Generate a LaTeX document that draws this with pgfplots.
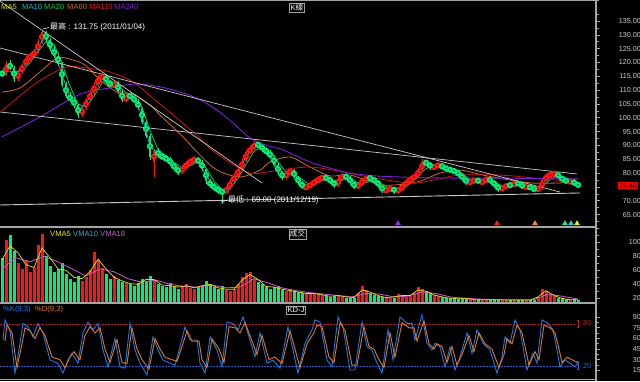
\documentclass[border=0pt]{standalone}
\usepackage{fontspec}
\setmainfont{Liberation Sans}
\newfontfamily\cjk{Noto Sans CJK TC}
\usepackage{pgfplots}
\usepackage{pgfplotstable}
\pgfplotsset{compat=1.18}

\definecolor{cup}{RGB}{255,20,20}
\definecolor{cdn}{RGB}{0,235,120}
\definecolor{tickc}{RGB}{205,205,205}
\definecolor{sepc}{RGB}{165,165,165}
\definecolor{trend}{RGB}{200,200,200}
\definecolor{maA}{RGB}{220,220,0}
\definecolor{maB}{RGB}{0,190,200}
\definecolor{maC}{RGB}{0,200,80}
\definecolor{maD}{RGB}{205,105,40}
\definecolor{maE}{RGB}{200,20,20}
\definecolor{maEt}{RGB}{230,30,30}
\definecolor{maF}{RGB}{125,30,210}
\definecolor{vmaA}{RGB}{230,230,0}
\definecolor{vmaB}{RGB}{40,170,210}
\definecolor{vmaC}{RGB}{200,90,210}
\definecolor{kcol}{RGB}{30,120,225}
\definecolor{dcol}{RGB}{225,120,30}
\definecolor{lred}{RGB}{200,30,30}
\definecolor{lblue}{RGB}{30,110,220}
\definecolor{dred}{RGB}{170,25,25}
\definecolor{dblue}{RGB}{30,90,190}
\definecolor{boxred}{RGB}{255,0,0}
\definecolor{mkA}{RGB}{150,50,230}
\definecolor{mkB}{RGB}{255,30,30}
\definecolor{mkC}{RGB}{255,130,80}
\definecolor{mkD}{RGB}{40,230,140}
\definecolor{mkE}{RGB}{40,200,230}
\definecolor{mkF}{RGB}{240,240,30}

\newcommand\tkf{\fontsize{7.2}{8}\selectfont}
\newcommand\lgf{\fontsize{7.6}{8}\selectfont}

\pgfplotstableread{
x o c h l v
2 116.5 115.5 117.3 114.6 78
6 115.5 119.5 120.4 115.0 104
10 119.5 118.0 120.8 117.2 110
14 118.0 114.0 118.6 112.8 88
18 114.0 116.5 117.2 113.4 70
22 116.5 119.0 119.8 116.0 62
26 119.0 121.5 122.3 118.4 75
30 121.5 122.5 123.5 120.6 58
34 122.5 124.0 125.0 121.7 64
38 124.0 127.5 128.4 123.3 96
42 127.5 131.0 131.75 126.8 112
46 131.0 128.0 131.4 127.2 80
50 128.0 125.0 128.8 124.2 66
54 125.0 122.5 125.8 121.6 58
58 122.5 119.5 123.4 118.6 62
62 119.5 112.0 120.0 111.0 70
66 112.0 108.0 112.8 107.0 55
70 108.0 106.5 109.2 105.6 48
74 106.5 104.5 107.4 103.6 44
78 104.5 101.0 105.0 99.8 52
82 101.0 103.5 104.3 100.4 45
86 103.5 106.5 107.3 102.8 50
90 106.5 109.0 109.9 105.8 60
94 109.0 112.0 112.8 108.3 86
98 112.0 114.5 115.4 111.3 75
102 114.5 115.0 116.2 113.7 64
106 115.0 113.0 115.8 112.2 55
110 113.0 111.5 113.8 110.6 48
114 111.5 112.5 113.4 110.8 52
118 112.5 109.5 113.2 108.7 46
122 109.5 106.5 110.1 105.6 44
126 106.5 107.5 108.5 105.8 42
130 108.3 107.5 109.0 106.7 40
134 107.5 106.0 108.2 105.2 38
138 106.0 103.5 106.8 102.7 42
142 103.5 98.5 104.0 97.6 48
146 98.5 93.5 99.2 92.6 45
150 93.5 86.0 94.2 84.8 52
154 84.0 88.0 88.8 78.6 46
158 88.0 86.5 89.0 85.6 40
162 86.5 85.5 87.3 84.6 38
166 85.5 85.0 86.5 84.0 36
170 85.0 83.5 85.8 82.6 42
174 83.5 81.5 84.2 80.6 36
178 81.5 80.5 82.3 79.4 34
182 80.5 82.0 82.9 79.8 38
186 82.0 83.5 84.4 81.3 40
190 83.5 84.5 85.5 82.7 35
194 84.5 85.0 86.3 83.8 33
198 85.0 84.0 85.9 83.2 36
202 84.0 81.5 84.6 80.7 38
206 81.5 77.0 82.0 76.1 45
210 77.0 75.5 77.9 74.6 40
214 75.5 74.5 76.4 73.6 36
218 74.5 73.5 75.4 72.6 34
222 73.5 73.0 74.4 69.0 38
226 73.0 74.5 75.3 72.4 32
230 74.5 77.0 77.8 73.9 30
234 77.0 79.0 79.9 76.3 33
238 79.0 81.5 82.3 78.4 40
242 81.5 84.5 85.3 80.8 50
246 84.5 87.5 88.4 83.9 56
250 87.5 89.0 90.0 86.8 58
254 89.0 90.5 92.0 88.3 48
258 90.5 90.0 91.4 89.2 44
262 90.0 88.5 90.7 87.6 40
266 88.5 87.5 89.6 86.7 36
270 87.5 86.0 88.3 85.2 34
274 86.0 83.0 86.6 82.2 36
278 83.0 80.0 83.6 79.2 38
282 80.0 78.5 80.8 77.6 32
286 78.5 80.0 80.8 77.9 30
290 80.0 81.0 82.0 79.3 34
294 81.0 78.5 81.6 77.7 30
298 78.5 76.5 79.1 75.6 29
302 76.5 75.0 77.2 74.2 28
306 74.6 75.2 76.0 73.8 26
310 75.2 76.0 76.8 74.6 27
314 76.0 77.0 77.8 75.4 28
318 77.0 78.0 78.8 76.3 26
322 78.0 78.5 79.4 77.4 25
326 78.5 78.0 79.2 77.2 23
330 78.0 77.0 78.7 76.2 22
334 77.0 75.5 77.6 74.7 24
338 75.5 78.0 78.8 75.0 25
342 78.0 79.0 79.9 77.4 22
346 79.0 78.5 79.7 77.7 21
350 78.5 76.5 79.0 75.7 20
354 76.5 75.0 77.0 74.2 21
358 75.0 76.0 76.8 74.4 27
362 76.0 77.5 78.3 75.4 38
366 77.5 78.0 79.0 76.9 32
370 78.4 78.0 79.1 77.2 28
374 78.0 77.0 78.6 76.2 25
378 77.0 75.5 77.6 74.7 23
382 75.5 73.5 76.0 72.7 22
386 73.5 74.0 74.9 72.9 21
390 74.0 74.5 75.4 73.4 20
394 74.5 73.5 75.1 72.6 21
398 73.5 74.0 74.8 72.8 26
402 74.0 75.5 76.3 73.4 24
406 75.5 77.0 77.8 74.9 22
410 77.0 78.0 78.9 76.4 24
414 78.0 79.0 79.8 77.4 28
418 79.0 81.0 81.9 78.4 36
422 81.0 84.0 85.0 80.4 33
426 84.0 83.5 84.9 82.7 30
430 83.5 82.0 84.2 81.2 27
434 82.0 82.5 83.4 81.3 25
438 82.5 83.0 83.9 81.9 23
442 83.0 82.0 83.6 81.2 22
446 82.0 81.5 82.7 80.7 21
450 81.5 81.0 82.3 80.2 20
454 81.0 80.5 81.8 79.7 20
458 80.5 79.5 81.1 78.7 19
462 79.5 78.0 80.1 77.2 21
466 78.0 76.5 78.6 75.7 20
470 76.5 77.0 77.8 75.9 19
474 77.0 77.5 78.3 76.4 18
478 77.5 77.0 78.2 76.2 19
482 76.6 77.0 77.8 75.9 18
486 77.0 78.0 78.8 76.4 17
490 78.0 77.0 78.6 76.2 18
494 77.0 75.5 77.6 74.7 19
498 75.5 74.0 76.0 73.2 17
502 74.0 75.0 75.8 73.4 18
506 75.0 75.5 76.3 74.4 17
510 75.9 75.4 76.6 74.7 18
514 75.4 76.5 77.3 74.9 17
518 76.5 76.0 77.2 75.3 18
522 76.0 75.0 76.6 74.3 17
526 74.7 75.2 75.9 74.0 18
530 75.2 74.5 75.8 73.8 17
534 74.5 74.0 75.2 73.0 18
538 74.0 74.5 75.3 73.4 22
542 74.5 77.5 78.3 74.0 34
546 77.5 79.0 79.9 76.9 30
550 79.0 79.5 80.4 78.4 26
554 79.5 80.0 80.9 78.9 23
558 80.0 78.5 80.5 77.7 21
562 78.5 77.5 79.1 76.7 20
566 77.5 77.0 78.2 76.2 19
570 76.7 77.2 77.9 76.0 18
574 77.2 76.0 77.7 75.3 19
578 76.0 75.46 76.6 74.9 17
}\candles

\pgfplotsset{
  panel/.style={
    scale only axis, width=596pt, xmin=0, xmax=596,
    anchor=south west,
    axis x line=none, axis y line*=right, xtick=\empty,
    axis line style={draw=sepc, line width=1.2pt, -},
    tick align=outside, major tick length=4pt, minor tick length=2.5pt,
    tick style={draw=sepc, line width=0.6pt},
    yticklabel style={font=\tkf, text=tickc, anchor=east, inner sep=0pt, xshift=41pt},
    scaled y ticks=false,
    /pgf/number format/assume math mode=true,
  },
  upc/.style={restrict expr to domain={\thisrow{c}-\thisrow{o}}{0:1000}},
  dnc/.style={restrict expr to domain={\thisrow{c}-\thisrow{o}}{-1000:-0.0001}},
}

\begin{document}
\begin{tikzpicture}
\fill[black] (0,0) rectangle (640pt,381pt);

% ---------------- price panel ----------------
\begin{axis}[panel, at={(0pt,154pt)}, height=227pt,
  ymin=60.52, ymax=142.59,
  ytick={65,70,80,85,...,135}, minor ytick={62.5,67.5,...,142.5},
  extra y ticks={75}, extra y tick labels={},
  yticklabel style={/pgf/number format/fixed, /pgf/number format/fixed zerofill, /pgf/number format/precision=2}]
% candles: wicks
\addplot[only marks, mark=none, draw=cup, line width=0.8pt, upc, error bars/.cd, y dir=both, y explicit, error mark=none,
  error bar style={draw=cup, line width=0.8pt}]
  table[x=x, y expr={0.5*(\thisrow{o}+\thisrow{c})},
        y error plus expr={\thisrow{h}-0.5*(\thisrow{o}+\thisrow{c})},
        y error minus expr={0.5*(\thisrow{o}+\thisrow{c})-\thisrow{l}}]{\candles};
\addplot[only marks, mark=none, draw=cdn, line width=0.8pt, dnc, error bars/.cd, y dir=both, y explicit, error mark=none,
  error bar style={draw=cdn, line width=0.8pt}]
  table[x=x, y expr={0.5*(\thisrow{o}+\thisrow{c})},
        y error plus expr={\thisrow{h}-0.5*(\thisrow{o}+\thisrow{c})},
        y error minus expr={0.5*(\thisrow{o}+\thisrow{c})-\thisrow{l}}]{\candles};
% candles: bodies
\addplot[only marks, mark=none, draw=cup, line width=2.2pt, upc, error bars/.cd, y dir=both, y explicit, error mark=none,
  error bar style={draw=cup, line width=2.2pt}]
  table[x=x, y expr={0.5*(\thisrow{o}+\thisrow{c})},
        y error expr={0.5*abs(\thisrow{c}-\thisrow{o})}]{\candles};
\addplot[only marks, mark=none, draw=cdn, line width=2.2pt, dnc, error bars/.cd, y dir=both, y explicit, error mark=none,
  error bar style={draw=cdn, line width=2.2pt}]
  table[x=x, y expr={0.5*(\thisrow{o}+\thisrow{c})},
        y error expr={0.5*abs(\thisrow{c}-\thisrow{o})}]{\candles};
% MA20
\addplot[draw=maC, line width=0.8pt, mark=none] coordinates {
(14,116.75)(22,116.9)(30,119.9)(38,123.9)(46,127.6)(54,126.6)(62,119.75)(70,111.5)(78,105)(86,103.9)
(94,107.75)(102,112.6)(110,113.5)(118,111.6)(126,109)(134,106.9)(142,103.9)(150,95.4)(158,88.5)(166,86.25)
(174,83.9)(182,81.9)(190,82.6)(198,84.25)(206,81.9)(214,77.1)(222,74.1)(230,74.5)(238,78)(246,83.1)
(254,87.9)(262,89.5)(270,88)(278,84.1)(286,80.4)(294,79.5)(302,77.75)(310,75.7)(318,76.55)(326,77.9)
(334,77.25)(342,77.4)(350,78)(358,76.5)(366,76.6)(374,77.6)(382,76)(390,74.4)(398,74)(406,75)
(414,77.4)(422,80.5)(430,82.6)(438,82.75)(446,82.25)(454,81.25)(462,79.75)(470,77.75)(478,77)(486,77.4)
(494,76.9)(502,75.4)(510,75)(518,75.85)(526,75.7)(534,74.7)(542,75.1)(550,77.6)(558,79.25)(566,78.25)
(574,76.9)(578,76.4)};
% MA10
\addplot[draw=maB, line width=0.7pt, mark=none] coordinates {
(6,117.5)(14,116)(22,117.75)(30,122)(38,125.75)(46,129.5)(54,123.75)(62,115.75)(70,107.25)(78,102.75)
(86,105)(94,110.5)(102,114.75)(110,112.25)(118,111)(126,107)(134,106.75)(142,101)(150,89.75)(158,87.25)
(166,85.25)(174,82.5)(182,81.25)(190,84)(198,84.5)(206,79.25)(214,75)(222,73.25)(230,75.75)(238,80.25)
(246,86)(254,89.75)(262,89.25)(270,86.75)(278,81.5)(286,79.25)(294,79.75)(302,75.75)(310,75.6)(318,77.5)
(326,78.25)(334,76.25)(342,78.5)(350,77.5)(358,75.5)(366,77.75)(374,77.5)(382,74.5)(390,74.25)(398,73.75)
(406,76.25)(414,78.5)(422,82.5)(430,82.75)(438,82.75)(446,81.75)(454,80.75)(462,78.75)(470,76.75)(478,77.25)
(486,77.5)(494,76.25)(502,74.5)(510,75.45)(518,76.25)(526,75.1)(534,74.25)(542,76)(550,79.25)(558,79.25)
(566,77.25)(574,76.6)(578,75.73)};
% MA60
\addplot[draw=maD, line width=0.8pt, mark=none, smooth] coordinates {
(2,109.3)(20,110.8)(40,116.6)(57,121.6)(70,121.2)(85,119.1)(100,113.7)(117,109.3)(133,108.6)(150,104.6)
(160,101)(183,93.1)(200,86.5)(217,81.1)(240,78.6)(260,81.1)(270,84.0)(290,85.8)(310,82.2)(330,79.0)
(350,79.3)(383,75.7)(417,76.8)(440,80.0)(460,81.1)(483,79.3)(510,77.5)(533,76.4)(555,76.4)(577,76.8)};
% MA110
\addplot[draw=maE, line width=0.8pt, mark=none, smooth] coordinates {
(2,102.5)(20,108)(40,113.5)(67,118.4)(90,117.8)(110,116.6)(133,113)(150,108)(160,105)(193,94.9)
(210,89)(230,83.7)(250,80.0)(267,80.4)(290,81.6)(310,82.2)(333,81.1)(370,78.5)(400,76.8)(417,76.4)
(440,78)(460,79.3)(500,79.3)(540,78)(577,76.8)};
% MA240
\addplot[draw=maF, line width=0.9pt, mark=none, smooth] coordinates {
(2,93.1)(40,100.3)(80,108.5)(110,110.8)(135,112.2)(160,111.2)(183,109)(200,106.5)(217,102.8)(235,97.5)
(250,92.7)(267,90)(283,88.4)(310,84.0)(330,81.8)(350,80.0)(375,79.0)(400,78.6)(430,78.3)(460,78.2)
(500,78.2)(540,78.0)(578,77.9)};
% trend lines
\addplot[draw=trend, line width=0.7pt, mark=none] coordinates {(0,142.2)(262,76.4)};
\addplot[draw=trend, line width=0.7pt, mark=none] coordinates {(0,125.24)(560,73.18)};
\addplot[draw=trend, line width=0.7pt, mark=none] coordinates {(0,102.1)(577,79.69)};
\addplot[draw=trend, line width=0.9pt, mark=none] coordinates {(0,68.48)(580,72.82)};
% event markers
\addplot[only marks, mark=triangle*, mark size=2.8pt, color=mkA] coordinates {(398,61.8)};
\addplot[only marks, mark=triangle*, mark size=2.8pt, color=mkB] coordinates {(497,61.8)};
\addplot[only marks, mark=triangle*, mark size=2.8pt, color=mkC] coordinates {(535,61.8)};
\addplot[only marks, mark=triangle*, mark size=2.8pt, color=mkD] coordinates {(565,61.8)};
\addplot[only marks, mark=triangle*, mark size=2.8pt, color=mkE] coordinates {(571,61.8)};
\addplot[only marks, mark=triangle*, mark size=2.8pt, color=mkF] coordinates {(577,61.8)};
\end{axis}

% ---------------- volume panel ----------------
\begin{axis}[panel, at={(0pt,78pt)}, height=76pt,
  ymin=13.3, ymax=121.9,
  ytick={20,40,60,80,100}, minor ytick={30,50,70,90,110,120}]
\addplot[ycomb, mark=none, draw=cup, line width=3pt, upc] table[x=x, y=v]{\candles};
\addplot[ycomb, mark=none, draw=cdn, line width=3pt, dnc] table[x=x, y=v]{\candles};
\addplot[draw=vmaC, line width=0.8pt, mark=none] coordinates {
(2,62)(16,78)(30,72)(44,80)(58,72)(72,62)(86,52)(100,62)(114,58)(128,48)(142,43)(156,46)(170,40)(184,37)
(198,36)(212,39)(226,35)(240,36)(254,48)(268,42)(282,35)(296,31)(310,28)(324,26)(338,24)(352,22)(366,27)
(380,26)(394,22)(408,23)(422,29)(436,27)(450,22)(464,20)(478,19)(492,18)(506,18)(520,18)(534,18)(548,26)
(562,23)(578,19)};
\addplot[draw=vmaA, line width=0.7pt, mark=none] coordinates {
(2,75)(10,95)(18,85)(26,68)(34,64)(42,92)(50,78)(58,62)(66,60)(74,50)(82,48)(90,58)(98,76)(106,62)(114,50)
(122,45)(130,41)(138,40)(146,47)(154,47)(162,39)(170,38)(178,36)(186,38)(194,35)(202,38)(210,40)(218,35)
(226,33)(234,33)(242,46)(250,54)(258,47)(266,37)(274,36)(282,33)(290,31)(298,29)(306,27)(314,27)(322,25)
(330,23)(338,24)(346,22)(354,21)(362,32)(370,29)(378,24)(386,21)(394,22)(402,24)(410,24)(418,32)(426,30)
(434,25)(442,22)(450,20)(458,20)(466,20)(474,18)(482,18)(490,18)(498,18)(506,17.5)(514,17.5)(522,17.5)
(530,17.5)(538,22)(546,31)(554,24)(562,20)(570,18)(578,18)};
\end{axis}

% ---------------- KD panel ----------------
\begin{axis}[panel, at={(0pt,2pt)}, height=76pt,
  ymin=2.8, ymax=109.7,
  ytick={15,30,...,90}, minor tick num=1]
\addplot[draw=dred, line width=0.7pt, dash pattern=on 1.5pt off 1.5pt, mark=none] coordinates {(0,80)(576,80)};
\addplot[draw=dblue, line width=0.7pt, dash pattern=on 1.5pt off 1.5pt, mark=none] coordinates {(0,20)(576,20)};
\addplot[draw=kcol, line width=0.9pt, mark=none] coordinates {
(3,57.6)(5,86)(10,72)(15,11)(20,53)(23,81)(28,76)(33,62)(38,81)(43,67.5)(50,29.5)(58,25)(63,11)(68,29.5)
(72,39)(78,25)(83,67.5)(88,83)(93,72)(98,81)(103,43.6)(108,20)(115,60)(120,20)(125,18)(130,81)(135,43.6)
(140,25)(147,8.4)(153,62)(158,43.6)(163,29.5)(170,25)(175,22)(180,48)(185,76)(190,57.6)(197,57.6)(200,25)
(205,11)(210,62)(217,43.6)(222,20)(227,83)(233,81)(238,72)(243,90)(250,57.6)(255,34)(260,67.5)(267,25)
(273,29.5)(280,18)(288,76)(293,43.6)(298,11)(305,53)(312,72)(315,86)(320,83)(327,29.5)(332,20)(338,90)
(343,76)(350,15.5)(355,15.5)(362,83)(367,48)(372,43.6)(377,25)(382,11)(388,72)(393,29.5)(400,90)(407,81)
(412,81)(415,57.6)(422,93)(427,53)(432,43.6)(435,53)(440,48)(445,20)(450,48)(455,15.5)(460,34)(467,67.5)
(472,39)(477,72)(483,53)(490,43.6)(497,11)(502,34)(505,62)(510,53)(515,86)(520,72)(527,15.5)(533,39)
(537,25)(542,86)(548,81)(553,72)(557,43.6)(560,20)(565,29.5)(570,25)(575,20)(578,25)};
\addplot[draw=dcol, line width=0.9pt, mark=none] coordinates {
(5,56.1)(7,78.8)(12,67.6)(17,18.8)(22,52.4)(25,74.8)(30,70.8)(35,59.6)(40,74.8)(45,64)(52,33.6)(60,30)
(65,18.8)(70,33.6)(74,41.2)(80,30)(85,64)(90,76.4)(95,67.6)(100,74.8)(105,44.9)(110,26)(117,58)(122,26)
(127,24.4)(132,74.8)(137,44.9)(142,30)(149,16.7)(155,59.6)(160,44.9)(165,33.6)(172,30)(177,27.6)(182,48.4)
(187,70.8)(192,56.1)(199,56.1)(202,30)(207,18.8)(212,59.6)(219,44.9)(224,26)(229,76.4)(235,74.8)(240,67.6)
(245,82)(252,56.1)(257,37.2)(262,64)(269,30)(275,33.6)(282,24.4)(290,70.8)(295,44.9)(300,18.8)(307,52.4)
(314,67.6)(317,78.8)(322,76.4)(329,33.6)(334,26)(340,82)(345,70.8)(352,22.4)(357,22.4)(364,76.4)(369,48.4)
(374,44.9)(379,30)(384,18.8)(390,67.6)(395,33.6)(402,82)(409,74.8)(414,74.8)(417,56.1)(424,84.4)(429,52.4)
(434,44.9)(437,52.4)(442,48.4)(447,26)(452,48.4)(457,22.4)(462,37.2)(469,64)(474,41.2)(479,67.6)(485,52.4)
(492,44.9)(499,18.8)(504,37.2)(507,59.6)(512,52.4)(517,78.8)(522,67.6)(529,22.4)(535,41.2)(539,30)(544,78.8)
(550,74.8)(555,67.6)(559,44.9)(562,26)(567,33.6)(572,30)(577,26)(578,28)};
\end{axis}

% ---------------- frame & separators ----------------
\draw[sepc, line width=1.5pt] (0,154pt) -- (596pt,154pt);
\draw[sepc, line width=1.5pt] (0,78pt) -- (596pt,78pt);
\draw[sepc, line width=1.5pt] (0,1.5pt) -- (596pt,1.5pt);
\draw[sepc, line width=1pt] (0,380.5pt) -- (596pt,380.5pt);
\draw[sepc, line width=1.2pt] (596pt,0) -- (596pt,381pt);

% ---------------- texts ----------------
\node[anchor=west, inner sep=0pt, text=maA, font=\lgf] at (1pt,374pt) {MA5};
\node[anchor=west, inner sep=0pt, text=maB, font=\lgf] at (22pt,374pt) {MA10};
\node[anchor=west, inner sep=0pt, text=maC, font=\lgf] at (44pt,374pt) {MA20};
\node[anchor=west, inner sep=0pt, text=maD, font=\lgf] at (67pt,374pt) {MA60};
\node[anchor=west, inner sep=0pt, text=maEt, font=\lgf] at (89pt,374pt) {MA110};
\node[anchor=west, inner sep=0pt, text=maF, font=\lgf] at (114pt,374pt) {MA240};
\node[draw=sepc, fill=black, text=white, font=\lgf, inner sep=1.2pt] at (297pt,373.5pt) {K{\cjk 線}};

\draw[white, line width=0.5pt] (43pt,352pt) -- (49pt,353.5pt);
\node[anchor=west, inner sep=0pt, text=white, font=\fontsize{8}{9}\selectfont] at (50pt,354pt) {{\cjk 最高} : 131.75 (2011/01/04)};
\draw[white, line width=0.5pt] (221pt,179pt) -- (228pt,181pt);
\node[anchor=west, inner sep=0pt, text=white, font=\fontsize{8}{9}\selectfont] at (228pt,181pt) {{\cjk 最低} : 69.00 (2011/12/19)};

\node[anchor=east, fill=boxred, text=black, font=\tkf, inner sep=1.2pt] at (638.5pt,195.3pt) {75.46};

\node[anchor=west, inner sep=0pt, text=vmaA, font=\lgf] at (50pt,147pt) {VMA5};
\node[anchor=west, inner sep=0pt, text=vmaB, font=\lgf] at (73pt,147pt) {VMA10};
\node[anchor=west, inner sep=0pt, text=vmaC, font=\lgf] at (100pt,147pt) {VMA18};
\node[draw=sepc, fill=black, text=white, font=\lgf, inner sep=1.2pt] at (297.5pt,147pt) {{\cjk 成交}};

\node[anchor=west, inner sep=0pt, text=kcol, font=\lgf] at (3pt,71pt) {\%K(9,3)};
\node[anchor=west, inner sep=0pt, text=dcol, font=\lgf] at (35pt,71pt) {\%D(9,3)};
\node[draw=sepc, fill=black, text=white, font=\lgf, inner sep=1.2pt] at (296pt,71pt) {KD-J};

\draw[lred, line width=0.6pt] (578pt,54pt) -- (578pt,61pt) (576.8pt,54pt) -- (579.2pt,54pt) (576.8pt,61pt) -- (579.2pt,61pt);
\node[anchor=west, inner sep=0pt, text=lred, font=\tkf] at (583pt,58pt) {80};
\draw[lblue, line width=0.6pt] (578pt,12pt) -- (578pt,19pt) (576.8pt,12pt) -- (579.2pt,12pt) (576.8pt,19pt) -- (579.2pt,19pt);
\node[anchor=west, inner sep=0pt, text=lblue, font=\tkf] at (583pt,15pt) {20};

\pgfresetboundingbox
\path[use as bounding box] (0,0) rectangle (640pt,381pt);
\end{tikzpicture}
\end{document}
